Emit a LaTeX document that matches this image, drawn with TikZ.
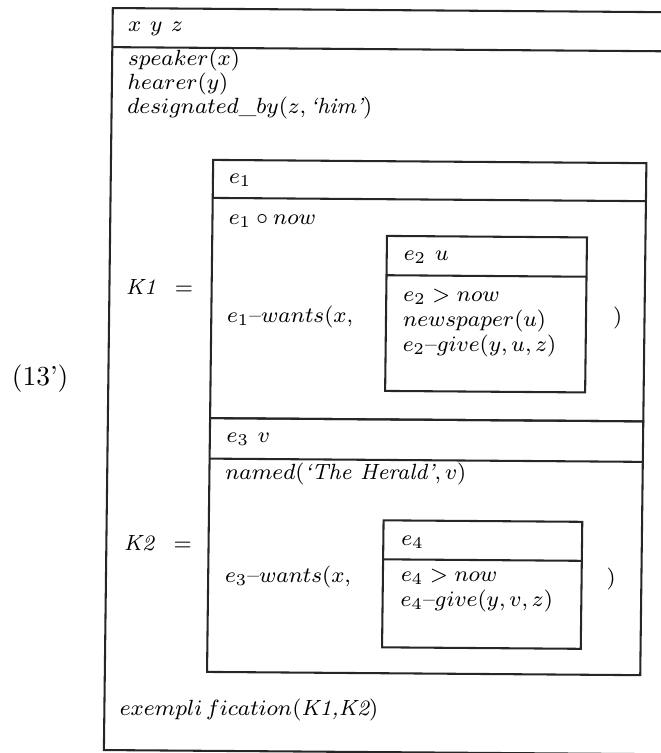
\documentclass[tikz,border=0pt]{standalone}
\begin{document}
\begin{tikzpicture}[x=0.3636pt,y=-0.3636pt,
  font=\fontsize{8}{9.6}\selectfont,
  drs/.style={draw=black!85,line width=0.75pt},
  txt/.style={anchor=base west,inner sep=0pt,outer sep=0pt,text=black}]
\useasboundingbox (0,0) rectangle (661,753);
\clip (0,0) rectangle (661,753);
\begin{scope}[cm={1,-0.0075,0.012,1,(1.64pt,0.9pt)}]
% outer DRS
\draw[drs] (108.4,9.7) rectangle (720,751.7);
\draw[drs] (108.4,48.8) -- (720,48.8);
\node[txt] (xyz) at (124,33.5) {$x\hspace{0.4em}y\hspace{0.4em}z$};
\node[txt] (spk) at (124.3,67.5) {$speaker(x)$};
\node[txt] (hea) at (124.3,91.3) {$hearer(y)$};
\node[txt] (des) at (124.3,114.8) {$designated\_by(z,\textit{`him'})$};
\node[txt,font=\fontsize{10}{12}\selectfont] (num) at (12,387.4) {(13')};
\node[txt] (k1lab) at (125,296.5) {\textit{K1}\hspace{0.85em}$=$};
\node[txt] (k2lab) at (126,552.5) {\textit{K2}\hspace{0.85em}$=$};
\node[txt] (exem) at (124,716.6) {$exempli\,fication(\textit{K1,K2})$};
% K1 box
\draw[drs] (210.6,160.8) rectangle (643.8,419);
\draw[drs] (210.6,198.8) -- (643.8,198.8);
\node[txt] (e1) at (226.7,184.1) {$e_1$};
\node[txt] (e1now) at (227,224.8) {$e_1\circ now$};
\node[txt] (wants1) at (226.5,322.8) {$e_1\mbox{--}wants(x,$};
\node[txt] (close1) at (612.5,321) {$)$};
% e2 box
\draw[drs] (385.3,235.5) rectangle (585.3,390.5);
\draw[drs] (385.3,274.8) -- (585.3,274.8);
\node[txt] (e2u) at (402.5,259.5) {$e_2\hspace{0.4em}u$};
\node[txt] (e2now) at (402.5,300.7) {$e_2>now$};
\node[txt] (news) at (402.5,326) {$newspaper(u)$};
\node[txt] (give2) at (402.5,351.2) {$e_2\mbox{--}give(y,u,z)$};
% K2 box
\draw[drs] (210.6,419) rectangle (643.8,672.8);
\draw[drs] (210.6,459.5) -- (643.8,459.5);
\node[txt] (e3v) at (227.5,443.5) {$e_3\hspace{0.4em}v$};
\node[txt] (named) at (226.5,480.3) {$named(\textit{`The Herald'},v)$};
\node[txt] (wants2) at (227.5,582.8) {$e_3\mbox{--}wants(x,$};
\node[txt] (close2) at (609,582.5) {$)$};
% e4 box
\draw[drs] (385.3,519.9) rectangle (584,646.9);
\draw[drs] (385.3,558.9) -- (584,558.9);
\node[txt] (e4) at (403.5,545.2) {$e_4$};
\node[txt] (e4now) at (403.5,581.2) {$e_4>now$};
\node[txt] (give4) at (403.5,606.2) {$e_4\mbox{--}give(y,v,z)$};
\end{scope}
\end{tikzpicture}
\end{document}
